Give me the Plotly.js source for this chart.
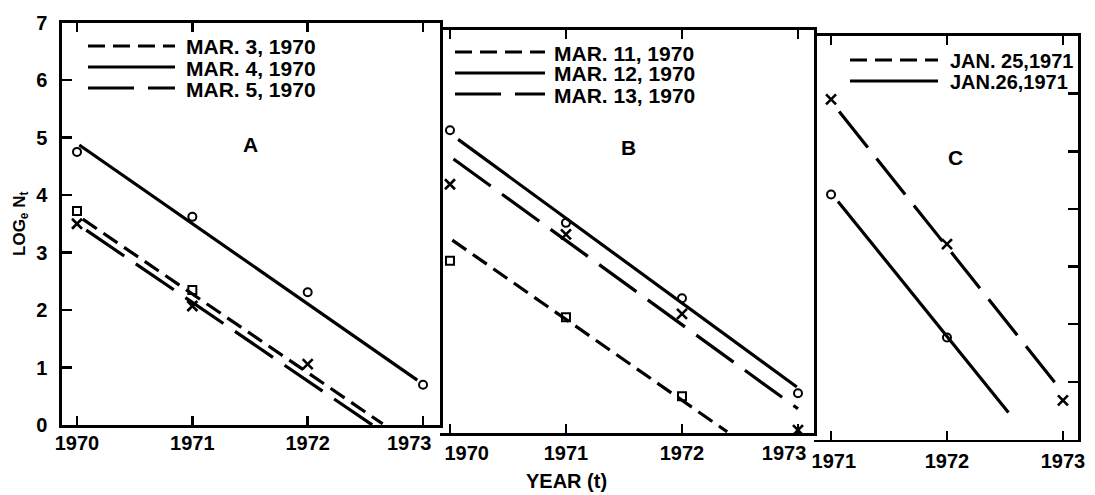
<!DOCTYPE html>
<html><head><meta charset="utf-8">
<script src="https://cdn.plot.ly/plotly-3.0.1.min.js"></script>
<style>html,body{margin:0;padding:0;background:#fff}#chart{width:1095px;height:495px}</style>
</head><body><div id="chart"></div>
<script>
// ---------- Panel A ----------
const tickYearsA = [1970, 1971, 1972, 1973];
const mar3Years = [1970, 1971];
const mar3Values = [3.72, 2.35];
const mar4Years = [1970, 1971, 1972, 1973];
const mar4Values = [4.75, 3.62, 2.31, 0.70];
const mar5Years = [1970, 1971, 1972];
const mar5Values = [3.50, 2.07, 1.06];
const mar3FitYears = [1970.05, 1972.65];
const mar3FitValues = [3.58, 0.02];
const mar4FitYears = [1970.02, 1972.95];
const mar4FitValues = [4.87, 0.78];
const mar5FitYears = [1970.08, 1972.56];
const mar5FitValues = [3.39, 0.0];

// ---------- Panel B ----------
const tickYearsB = [1970, 1971, 1972, 1973];
const mar11Years = [1970, 1971, 1972];
const mar11Values = [2.99, 2.01, 0.64];
const mar12Years = [1970, 1971, 1972, 1973];
const mar12Values = [5.26, 3.65, 2.34, 0.69];
const mar13Years = [1970, 1971, 1972, 1973];
const mar13Values = [4.32, 3.45, 2.07, 0.05];
const mar11FitYears = [1970.02, 1972.39];
const mar11FitValues = [3.35, 0.02];
const mar12FitYears = [1970.07, 1972.99];
const mar12FitValues = [5.10, 0.80];
const mar13FitYears = [1970.03, 1973.0];
const mar13FitValues = [4.76, 0.42];

// ---------- Panel C ----------
const tickYearsC = [1971, 1972, 1973];
const jan25Years = [1971, 1972, 1973];
const jan25Values = [5.90, 3.39, 0.68];
const jan26Years = [1971, 1972];
const jan26Values = [4.25, 1.77];
const jan25FitYears = [1971.07, 1972.97];
const jan25FitValues = [5.69, 0.89];
const jan26FitYears = [1971.06, 1972.53];
const jan26FitValues = [4.13, 0.47];

// ---------- Labels ----------
const yTicks = [0, 1, 2, 3, 4, 5, 6, 7];
const yTicksC = [1, 2, 3, 4, 5, 6];
const NB = '\u00a0';
const tickTextA = ['1970', '1971', '1972', '1973' + NB.repeat(5)];
const tickTextB = [NB.repeat(6) + '1970', '1971', '1972', '1973' + NB.repeat(5)];
const tickTextC = [NB + '1971', '1972', '1973'];
const legendA = ['MAR. 3, 1970', 'MAR. 4, 1970', 'MAR. 5, 1970'];
const legendB = ['MAR. 11, 1970', 'MAR. 12, 1970', 'MAR. 13, 1970'];
const legendC = ['JAN. 25,1971', 'JAN.26,1971'];
const panelNames = ['A', 'B', 'C'];

// ---------- styles ----------
const W = 1095, H = 495;
const px = x => x / W;
const py = y => 1 - y / H;
const SHORT = '17px,8px';
const LONG = '46px,14px';
const LW = 3.2;
const FONT = 'Liberation Sans, Arial, sans-serif';

function fit(x, y, dash, xa, ya) {
  return {x: x, y: y, xaxis: xa, yaxis: ya, mode: 'lines', hoverinfo: 'skip',
    line: {color: '#000', width: LW, dash: dash}};
}
function pts(x, y, sym, xa, ya) {
  const isX = sym === 'x-thin';
  return {x: x, y: y, xaxis: xa, yaxis: ya, mode: 'markers',
    marker: {symbol: sym, size: isX ? 10 : 8, color: '#000',
      line: {color: '#000', width: isX ? 2.6 : 2}}};
}

const traces = [
  fit(mar3FitYears, mar3FitValues, SHORT, 'x', 'y'),
  fit(mar4FitYears, mar4FitValues, 'solid', 'x', 'y'),
  fit(mar5FitYears, mar5FitValues, LONG, 'x', 'y'),
  pts(mar3Years, mar3Values, 'square-open', 'x', 'y'),
  pts(mar4Years, mar4Values, 'circle-open', 'x', 'y'),
  pts(mar5Years, mar5Values, 'x-thin', 'x', 'y'),

  fit(mar11FitYears, mar11FitValues, SHORT, 'x2', 'y2'),
  fit(mar12FitYears, mar12FitValues, 'solid', 'x2', 'y2'),
  fit(mar13FitYears, mar13FitValues, LONG, 'x2', 'y2'),
  pts(mar11Years, mar11Values, 'square-open', 'x2', 'y2'),
  pts(mar12Years, mar12Values, 'circle-open', 'x2', 'y2'),
  pts(mar13Years, mar13Values, 'x-thin', 'x2', 'y2'),

  fit(jan25FitYears, jan25FitValues, LONG, 'x3', 'y3'),
  fit(jan26FitYears, jan26FitValues, 'solid', 'x3', 'y3'),
  pts(jan25Years, jan25Values, 'x-thin', 'x3', 'y3'),
  pts(jan26Years, jan26Values, 'circle-open', 'x3', 'y3')
];

const tickFont = {family: FONT, size: 20, color: '#000', weight: 'bold'};
function xAxis(domain, range, vals, text, anchor, standoff) {
  return {domain: domain, range: range, anchor: anchor, tickmode: 'array', tickvals: vals, ticktext: text,
    ticks: 'inside', ticklen: 9, tickwidth: 2.5, tickcolor: '#000', mirror: 'ticks',
    showline: true, linewidth: 2.6, linecolor: '#000', showgrid: false, zeroline: false,
    tickfont: tickFont, ticklabelstandoff: standoff, fixedrange: true};
}
function yAxis(domain, anchor, extra) {
  return Object.assign({domain: domain, range: [0, 7], anchor: anchor, showline: true, linewidth: 2.6,
    linecolor: '#000', mirror: false, showgrid: false, zeroline: false, fixedrange: true,
    showticklabels: false, ticks: ''}, extra);
}

const layout = {
  width: W, height: H, margin: {l: 0, r: 0, t: 0, b: 0},
  paper_bgcolor: '#fff', plot_bgcolor: '#fff', showlegend: false,
  xaxis: xAxis([px(62), px(440)], [1969.87, 1973.147], tickYearsA, tickTextA, 'y', -2),
  xaxis2: xAxis([px(440), px(814)], [1969.914, 1973.138], tickYearsB, tickTextB, 'y2', 0),
  xaxis3: xAxis([px(814), px(1078)], [1970.853, 1973.13], tickYearsC, tickTextC, 'y3', 2),
  yaxis: yAxis([py(425), py(22.5)], 'x', {
    mirror: true,
    showticklabels: true, ticks: 'inside', ticklen: 10, tickwidth: 2.5, tickcolor: '#000',
    tickmode: 'array', tickvals: yTicks, tickfont: tickFont, ticklabelstandoff: 8,
    title: {text: 'LOG<sub>e</sub> N<sub>t</sub>', font: {family: FONT, size: 17, color: '#000', weight: 'bold'}, standoff: 7}
  }),
  yaxis2: yAxis([py(433), py(30)], 'x2', {side: 'right'}),
  yaxis3: yAxis([py(439.5), py(36)], 'x3', {
    side: 'right', ticks: 'inside', ticklen: 10, tickwidth: 2.5, tickcolor: '#000',
    tickmode: 'array', tickvals: yTicksC
  }),
  shapes: [],
  annotations: []
};

// legend keys (paper coordinates)
const legendSpecs = [
  {x0: 88, x1: 175, xt: 184, ys: [46, 67, 88], dashes: [SHORT, 'solid', LONG], texts: legendA, size: 21},
  {x0: 455, x1: 545, xt: 552, ys: [52, 73, 94], dashes: [SHORT, 'solid', LONG], texts: legendB, size: 21},
  {x0: 850, x1: 938, xt: 948, ys: [60, 81], dashes: [SHORT, 'solid'], texts: legendC, size: 20}
];
legendSpecs.forEach(s => {
  s.texts.forEach((t, i) => {
    layout.shapes.push({type: 'line', xref: 'paper', yref: 'paper', x0: px(s.x0), x1: px(s.x1),
      y0: py(s.ys[i]), y1: py(s.ys[i]), line: {color: '#000', width: LW, dash: s.dashes[i]}});
    layout.annotations.push({xref: 'paper', yref: 'paper', x: px(s.xt), y: py(s.ys[i] + 1),
      xanchor: 'left', yanchor: 'middle', showarrow: false, text: t,
      font: {family: FONT, size: s.size, color: '#000', weight: 'bold'}});
  });
});

// panel letters
const panelPos = [[250, 144], [628, 148], [955, 157]];
panelNames.forEach((n, i) => {
  layout.annotations.push({xref: 'paper', yref: 'paper', x: px(panelPos[i][0]), y: py(panelPos[i][1]),
    xanchor: 'center', yanchor: 'middle', showarrow: false, text: n,
    font: {family: FONT, size: 21, color: '#000', weight: 'bold'}});
});

// shared x title
layout.annotations.push({xref: 'paper', yref: 'paper', x: px(566), y: py(481), xanchor: 'center', yanchor: 'middle',
  showarrow: false, text: 'YEAR (t)', font: {family: FONT, size: 20, color: '#000', weight: 'bold'}});

Plotly.newPlot('chart', traces, layout, {displayModeBar: false, staticPlot: true});
</script></body></html>
